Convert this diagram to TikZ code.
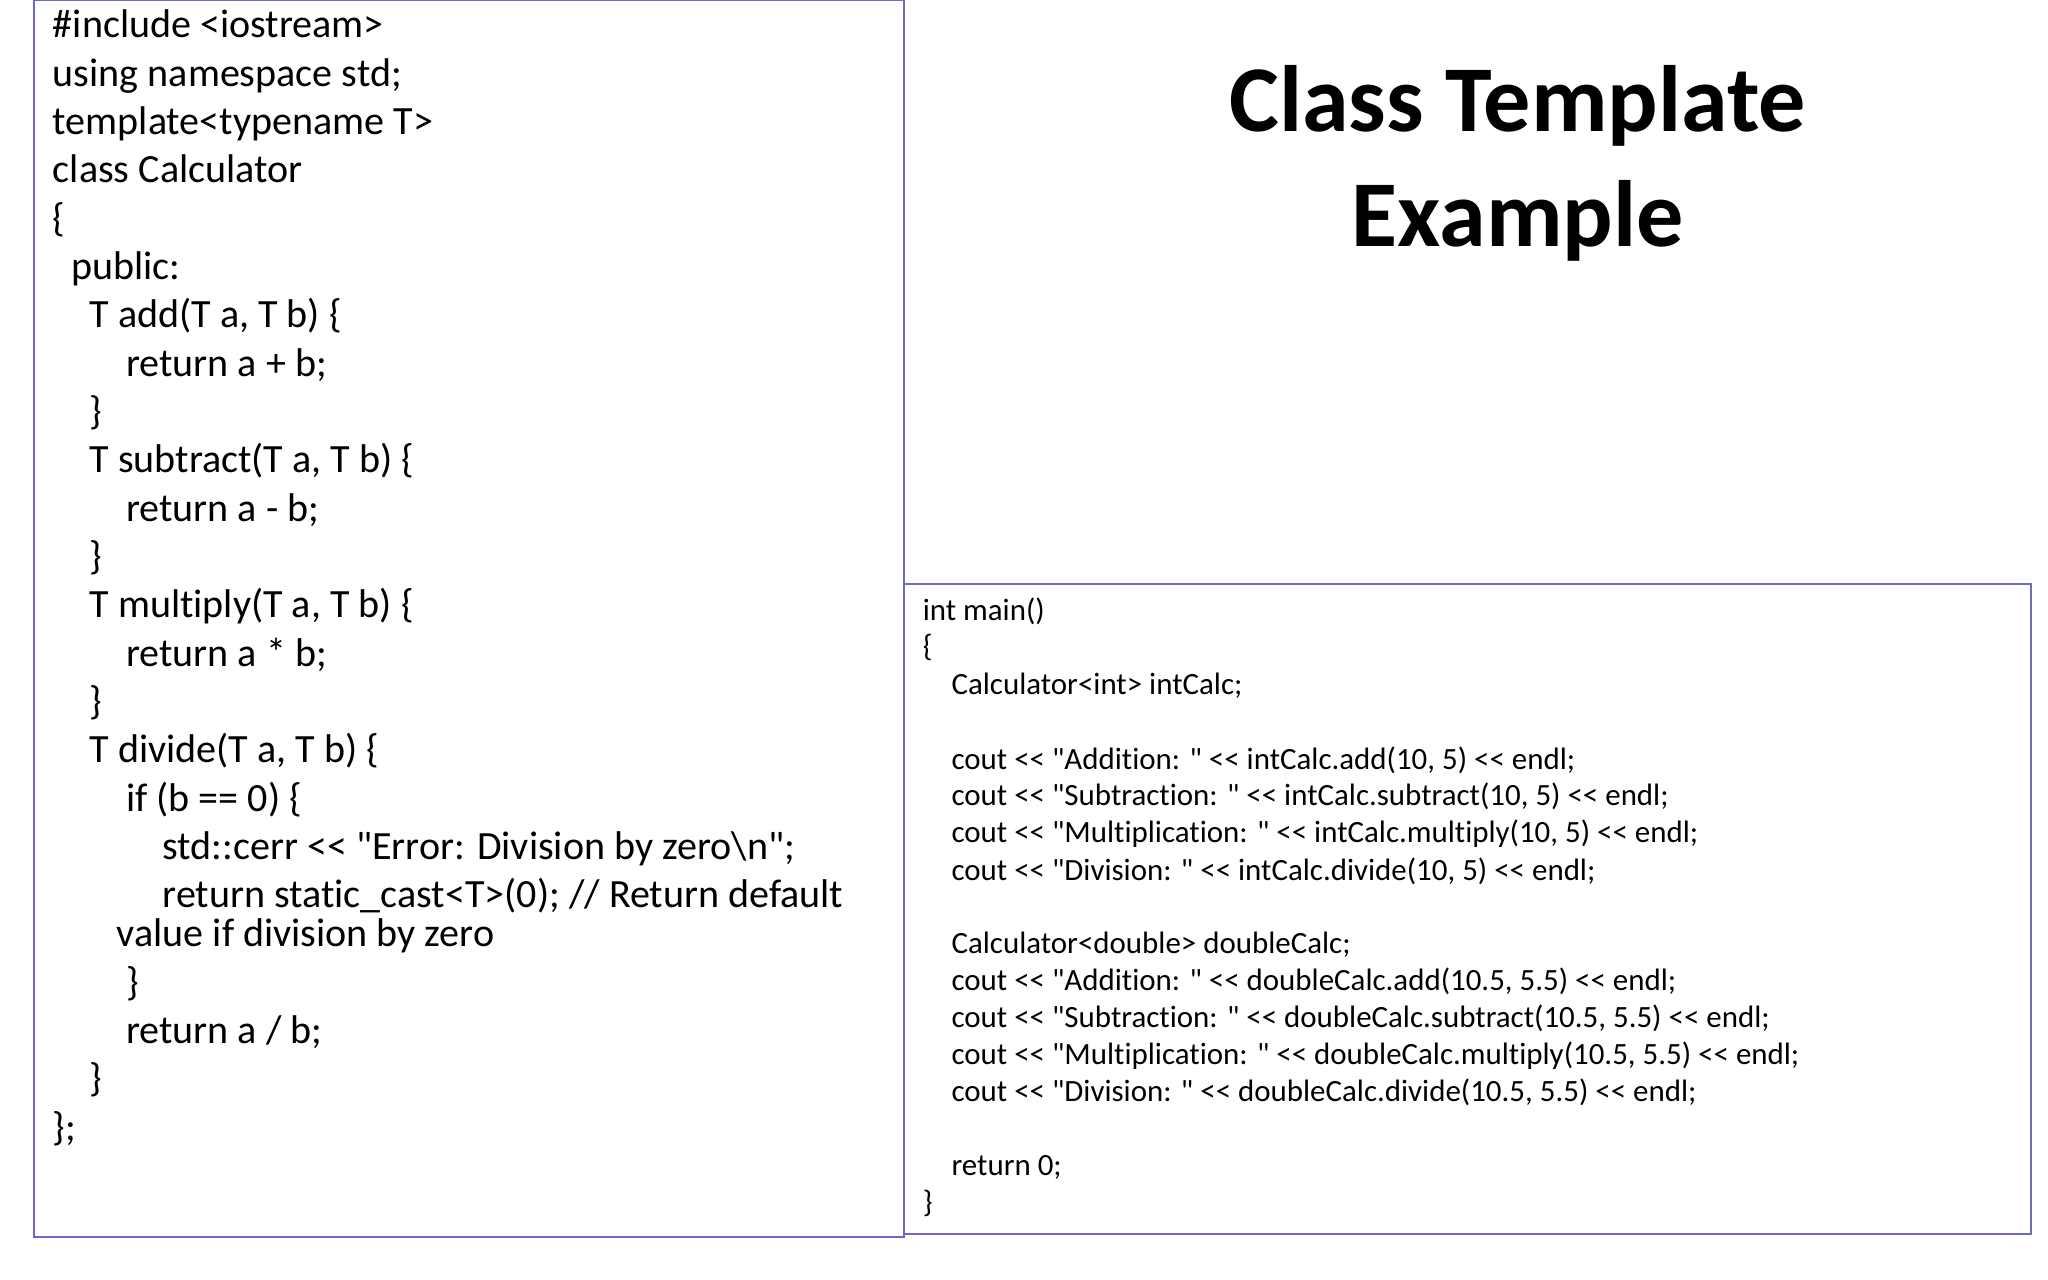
\documentclass[tikz,border=0pt]{standalone}
\usepackage{fontspec}
\newfontfamily\cf{Carlito}[Ligatures={TeXOff,NoCommon}]
\newfontfamily\cfb{Carlito}[Ligatures=TeXOff,BoldFont={* Bold}]
\begin{document}
\begin{tikzpicture}[x=0.01306cm,y=-0.01306cm,
  lc/.style={anchor=base west,inner sep=0pt,font=\cf\fontsize{11.4}{14}\selectfont},
  rc/.style={anchor=base west,inner sep=0pt,font=\cf\fontsize{8.8}{11}\selectfont},
  tt/.style={anchor=base,inner sep=0pt,font=\cfb\bfseries\fontsize{26.8}{30}\selectfont},
  box/.style={draw=blue!45!gray!80,line width=0.6pt}]
\useasboundingbox (0,0) rectangle (1568,980);
\draw[box] (26,0) rectangle (692,947);
\draw[box] (692,447) rectangle (1555,945);
\node[tt] (t1) at (1162,101) {Class Template};
\node[tt] (t2) at (1162,189) {Example};
\foreach \x/\y/\t [count=\i] in {
40/29/{\#include <iostream>},
40/66/{using namespace std;},
40/103/{template<typename T>},
40/140/{class Calculator},
40/177/{\{},
54/214/{public:},
68/251/{T add(T a, T b) \{},
96/288/{return a + b;},
68/325/{\}},
68/362/{T subtract(T a, T b) \{},
96/399/{return a - b;},
68/436/{\}},
68/473/{T multiply(T a, T b) \{},
96/510/{return a * b;},
68/547/{\}},
68/584/{T divide(T a, T b) \{},
96/621/{if (b == 0) \{},
124/658/{std::cerr << "Error: Division by zero\textbackslash n";},
124/695/{return static\_cast<T>(0); // Return default},
89/725/{value if division by zero},
96/762/{\}},
96/799/{return a / b;},
68/836/{\}},
40/873/{\};}}
  \node[lc] (l\i) at (\x,\y) {\t};
\foreach \x/\y/\t [count=\i] in {
706/475/{int main()},
706/503/{\{},
728/532/{Calculator<int> intCalc;},
728/589/{cout << "Addition: " << intCalc.add(10, 5) << endl;},
728/617/{cout << "Subtraction: " << intCalc.subtract(10, 5) << endl;},
728/645/{cout << "Multiplication: " << intCalc.multiply(10, 5) << endl;},
728/674/{cout << "Division: " << intCalc.divide(10, 5) << endl;},
728/730/{Calculator<double> doubleCalc;},
728/758/{cout << "Addition: " << doubleCalc.add(10.5, 5.5) << endl;},
728/787/{cout << "Subtraction: " << doubleCalc.subtract(10.5, 5.5) << endl;},
728/815/{cout << "Multiplication: " << doubleCalc.multiply(10.5, 5.5) << endl;},
728/843/{cout << "Division: " << doubleCalc.divide(10.5, 5.5) << endl;},
728/900/{return 0;},
706/928/{\}}}
  \node[rc] (r\i) at (\x,\y) {\t};
\end{tikzpicture}
\end{document}
